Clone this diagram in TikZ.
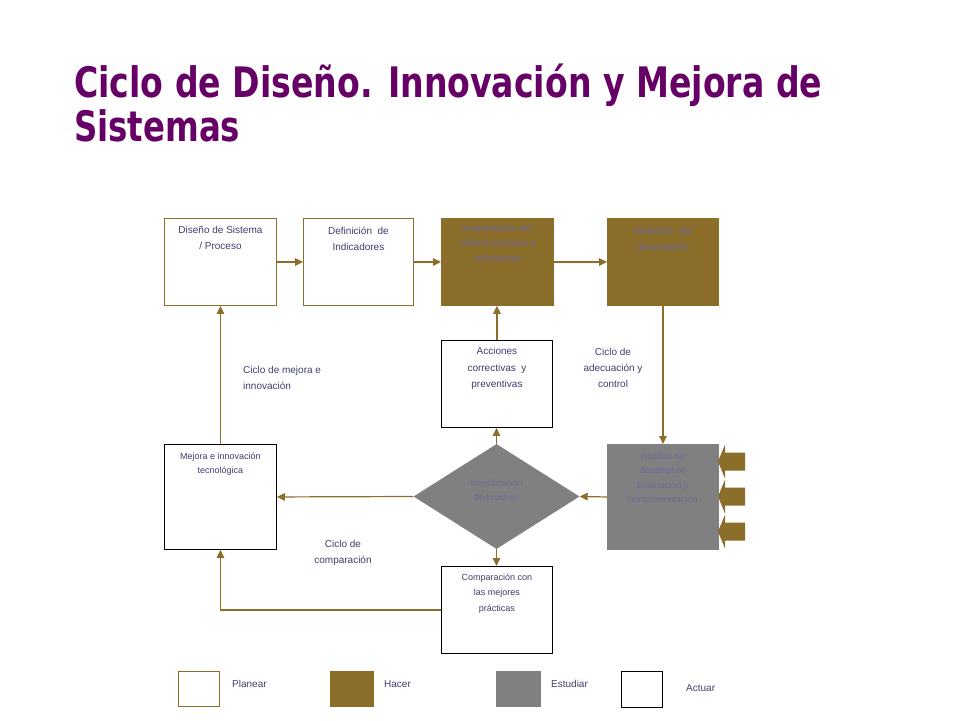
\documentclass[tikz,border=0pt]{standalone}
\usepackage{fontspec}
\setmainfont{Liberation Sans}
\newfontfamily\titlefont{DejaVu Sans}
\usetikzlibrary{shapes.geometric,arrows.meta}
\definecolor{brn}{RGB}{139,110,42}
\definecolor{gry}{RGB}{128,128,128}
\definecolor{ttl}{RGB}{102,0,102}
\definecolor{txt}{RGB}{62,62,110}
\definecolor{ltxt}{RGB}{112,104,150}
\tikzset{
  boxbase/.style={rectangle, inner sep=0pt, anchor=north west, line width=0.9pt},
  planbox/.style={boxbase, draw=brn, fill=white},
  hacerbox/.style={boxbase, draw=brn, fill=brn},
  estbox/.style={boxbase, draw=gry, fill=gry},
  actbox/.style={boxbase, draw=black, fill=white},
  lbl/.style={inner sep=0pt, align=center, text=txt, font=\fontsize{10}{16}\selectfont},
  lbls/.style={inner sep=0pt, align=center, text=txt, font=\fontsize{9}{14}\selectfont},
  conn/.style={draw=brn, line width=1.2pt, -{Triangle[length=8pt,width=7.5pt]}},
  blockarrow/.style={fill=brn, draw=none},
}
\begin{document}
\begin{tikzpicture}[x=1pt,y=-1pt]
\useasboundingbox (0,0) rectangle (960,720);
% title
\node[anchor=base west, inner sep=0pt, text=ttl] (t1) at (74,97)
  {\resizebox{748pt}{\height}{\titlefont\bfseries\fontsize{42}{44}\selectfont Ciclo de Diseño. Innovación y Mejora de}};
\node[anchor=base west, inner sep=0pt, text=ttl] (t2) at (74,141)
  {\resizebox{166pt}{\height}{\titlefont\bfseries\fontsize{42}{44}\selectfont Sistemas}};
% boxes
\node[planbox, minimum width=112pt, minimum height=87pt] (b1) at (164,218) {};
\node[planbox, minimum width=110pt, minimum height=87pt] (b2) at (303,218) {};
\node[hacerbox, minimum width=112pt, minimum height=87pt] (b3) at (441,218) {};
\node[hacerbox, minimum width=111pt, minimum height=87pt] (b4) at (607,218) {};
\node[actbox, minimum width=111pt, minimum height=87pt] (acc) at (441,340) {};
\node[actbox, minimum width=112pt, minimum height=105pt] (mej) at (164,444) {};
\node[diamond, fill=gry, draw=none, inner sep=0pt, minimum width=166pt, minimum height=105pt] (dia) at (496.5,496.5) {};
\node[estbox, minimum width=111pt, minimum height=105pt] (ana) at (607,444) {};
\node[actbox, minimum width=111pt, minimum height=87pt] (comp) at (441,566) {};
% texts
\node[lbl, anchor=north] (tb1) at ([yshift=-8.5pt]b1.north) {Diseño de Sistema\\/ Proceso};
\node[lbl, anchor=north] (tb2) at ([yshift=-8.5pt]b2.north) {Definición\ \ de\\Indicadores};
\node[lbl, anchor=north, text=ltxt, font=\fontsize{9.5}{15}\selectfont] (tb3) at ([yshift=-6.5pt]b3.north) {Implantación del\\sistema proceso e\\indicadores};
\node[lbl, anchor=north, text=ltxt] (tb4) at ([yshift=-8.5pt]b4.north) {Medición\ \ del\\desempeño};
\node[lbl, anchor=north, font=\fontsize{10}{16.5}\selectfont] (tacc) at ([yshift=-7.5pt]acc.north) {Acciones\\correctivas\ \ y\\preventivas};
\node[lbl, anchor=north west, align=left] (cmej) at (243,366.5) {Ciclo de mejora e\\innovación};
\node[lbl, anchor=north] (cade) at (613,348.5) {Ciclo de\\adecuación y\\control};
\node[lbls, anchor=north] (tmej) at ([yshift=-9pt]mej.north) {Mejora e innovación\\tecnológica};
\node[lbls, anchor=north, text=ltxt] (tdia) at (496.5,479.5) {Identificación\\de brechas};
\node[lbls, anchor=north, text=ltxt, font=\fontsize{9}{14.5}\selectfont] (tana) at ([yshift=-8.5pt]ana.north) {Análisis de\\desempeño\\Evaluación y\\retroalimentación};
\node[lbl, anchor=north] (ccomp) at (343,540.5) {Ciclo de\\comparación};
\node[lbls, anchor=north, font=\fontsize{9}{15.5}\selectfont] (tcomp) at ([yshift=-7.5pt]comp.north) {Comparación con\\las mejores\\prácticas};
% connectors
\draw[conn] (b1.east) -- (b2.west);
\draw[conn] (b2.east) -- (b3.west);
\draw[conn] (b3.east) -- (b4.west);
\draw[conn] (b4.south) -- (ana.north);
\draw[conn] (ana.west) -- (dia.east);
\draw[conn] (dia.west) -- (mej.east);
\draw[conn] (dia.north) -- (dia.north |- acc.south);
\draw[conn] (acc.north) -- (acc.north |- b3.south);
\draw[conn] (dia.south) -- (dia.south |- comp.north);
\draw[conn] (comp.west) -| (mej.south);
\draw[conn] (mej.north) -- (b1.south);
% block arrows
\foreach \yy in {461.5,496.5,531.5} {
  \fill[blockarrow] (718,\yy) -- (725,\yy-17) -- (725,\yy-9) -- (745,\yy-9) -- (745,\yy+9) -- (725,\yy+9) -- (725,\yy+17) -- cycle;
}
% legend
\node[planbox, minimum width=41pt, minimum height=35pt] (lp) at (178,671) {};
\node[hacerbox, minimum width=43pt, minimum height=35pt] (lh) at (330,671) {};
\node[estbox, minimum width=44pt, minimum height=35pt] (le) at (496,671) {};
\node[actbox, minimum width=41pt, minimum height=36pt] (la) at (621,671) {};
\node[lbl, anchor=west] (tlp) at (232,684) {Planear};
\node[lbl, anchor=west] (tlh) at (384,684) {Hacer};
\node[lbl, anchor=west] (tle) at (551,684) {Estudiar};
\node[lbl, anchor=west] (tla) at (686,688) {Actuar};
\end{tikzpicture}
\end{document}
